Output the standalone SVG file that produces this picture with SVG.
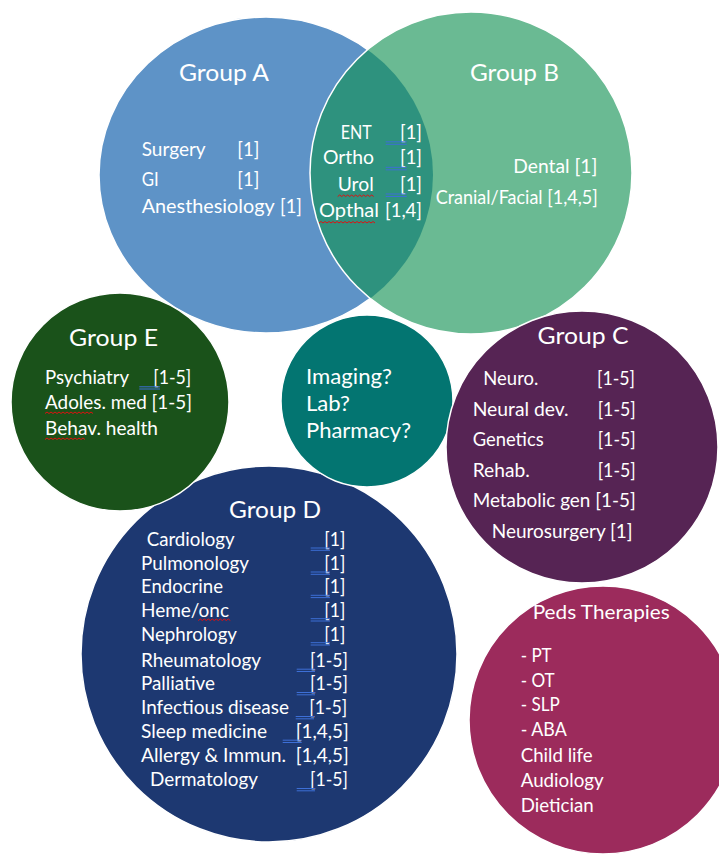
<svg xmlns="http://www.w3.org/2000/svg" width="719" height="856" viewBox="0 0 719 856">
  <defs>
    <clipPath id="clipA">
      <ellipse cx="266" cy="175" rx="167" ry="158"/>
    </clipPath>
    <style>
      .shape { stroke: #ffffff; stroke-width: 1.5; }
      .t { fill: #ffffff; font-family: Lato, "Open Sans", "Liberation Sans", sans-serif; font-size: 18.5px; }
      .title { font-size: 24px; }
      .mid { font-size: 21px; }
      .peds { font-size: 19.5px; }
      .gram { stroke: #3d6fd6; stroke-width: 1; fill: none; }
      .spell { stroke: #e01010; stroke-width: 1; fill: none; }
    </style>
  </defs>

  <rect width="719" height="856" fill="#ffffff"/>

  <!-- Group A / Group B overlap -->
  <g id="group-a">
    <ellipse class="shape" cx="266" cy="175" rx="167" ry="158" fill="#5e93c7"/>
    <text class="t title" x="179" y="81" textLength="90" lengthAdjust="spacingAndGlyphs">Group A</text>
    <text class="t" x="141.7" y="156" textLength="64" lengthAdjust="spacingAndGlyphs">Surgery</text>
    <text class="t" x="237.3" y="156" textLength="22" lengthAdjust="spacingAndGlyphs">[1]</text>
    <text class="t" x="141.7" y="186" textLength="17" lengthAdjust="spacingAndGlyphs">GI</text>
    <text class="t" x="237.3" y="186" textLength="22" lengthAdjust="spacingAndGlyphs">[1]</text>
    <text class="t" x="141.7" y="212.7" textLength="133" lengthAdjust="spacingAndGlyphs">Anesthesiology</text>
    <text class="t" x="280" y="212.7" textLength="22" lengthAdjust="spacingAndGlyphs">[1]</text>
  </g>

  <g id="group-b">
    <circle cx="471" cy="173" r="161" fill="#6aba93"/>
    <circle cx="471" cy="173" r="161" fill="#2e927e" clip-path="url(#clipA)"/>
    <circle cx="471" cy="173" r="161" fill="none" class="shape"/>
    <text class="t title" x="470" y="81" textLength="89" lengthAdjust="spacingAndGlyphs">Group B</text>
    <text class="t" x="513.3" y="173.3" textLength="84" lengthAdjust="spacingAndGlyphs">Dental [1]</text>
    <text class="t" x="435.7" y="204" textLength="162" lengthAdjust="spacingAndGlyphs">Cranial/Facial [1,4,5]</text>
  </g>

  <g id="group-ab-shared">
    <text class="t" x="340.7" y="139.3" textLength="31" lengthAdjust="spacingAndGlyphs">ENT</text>
    <text class="t" x="400" y="139.3" textLength="22" lengthAdjust="spacingAndGlyphs">[1]</text>
    <text class="t" x="323" y="164.3" textLength="51" lengthAdjust="spacingAndGlyphs">Ortho</text>
    <text class="t" x="400" y="164.3" textLength="22" lengthAdjust="spacingAndGlyphs">[1]</text>
    <text class="t" x="337.7" y="190.7" textLength="36" lengthAdjust="spacingAndGlyphs">Urol</text>
    <text class="t" x="400" y="190.7" textLength="22" lengthAdjust="spacingAndGlyphs">[1]</text>
    <text class="t" x="319" y="217.3" textLength="60" lengthAdjust="spacingAndGlyphs">Opthal</text>
    <text class="t" x="385" y="217.3" textLength="37" lengthAdjust="spacingAndGlyphs">[1,4]</text>
    <path class="gram" d="M385.7 141.8H406.7M385.7 144.3H406.7M385.7 167.3H406.7M385.7 169.8H406.7M385.7 194H406.7M385.7 196.5H406.7"/>
    <path class="spell" d="M337.7 196.5l2-1.5 2 1.5 2-1.5 2 1.5 2-1.5 2 1.5 2-1.5 2 1.5 2-1.5 2 1.5 2-1.5 2 1.5 2-1.5 2 1.5 2-1.5 2 1.5 2-1.5 2 1.5"/>
    <path class="spell" d="M319 223l2-1.5 2 1.5 2-1.5 2 1.5 2-1.5 2 1.5 2-1.5 2 1.5 2-1.5 2 1.5 2-1.5 2 1.5 2-1.5 2 1.5 2-1.5 2 1.5 2-1.5 2 1.5 2-1.5 2 1.5 2-1.5 2 1.5 2-1.5 2 1.5 2-1.5 2 1.5 2-1.5 2 1.5"/>
  </g>

  <!-- Group D -->
  <g id="group-d">
    <circle class="shape" cx="269" cy="654" r="188" fill="#1d3871"/>
    <text class="t title" x="229" y="518" textLength="92" lengthAdjust="spacingAndGlyphs">Group D</text>
    <text class="t" x="146.7" y="546" textLength="88" lengthAdjust="spacingAndGlyphs">Cardiology</text>
    <text class="t" x="324.3" y="546" textLength="21" lengthAdjust="spacingAndGlyphs">[1]</text>
    <text class="t" x="141" y="570" textLength="108" lengthAdjust="spacingAndGlyphs">Pulmonology</text>
    <text class="t" x="324.3" y="570" textLength="21" lengthAdjust="spacingAndGlyphs">[1]</text>
    <text class="t" x="141" y="593.3" textLength="82" lengthAdjust="spacingAndGlyphs">Endocrine</text>
    <text class="t" x="324.3" y="593.3" textLength="21" lengthAdjust="spacingAndGlyphs">[1]</text>
    <text class="t" x="141" y="616.7" textLength="88" lengthAdjust="spacingAndGlyphs">Heme/onc</text>
    <text class="t" x="324.3" y="616.7" textLength="21" lengthAdjust="spacingAndGlyphs">[1]</text>
    <text class="t" x="141" y="640.7" textLength="96" lengthAdjust="spacingAndGlyphs">Nephrology</text>
    <text class="t" x="324.3" y="640.7" textLength="21" lengthAdjust="spacingAndGlyphs">[1]</text>
    <text class="t" x="141" y="666.7" textLength="120" lengthAdjust="spacingAndGlyphs">Rheumatology</text>
    <text class="t" x="310" y="666.7" textLength="38" lengthAdjust="spacingAndGlyphs">[1-5]</text>
    <text class="t" x="141" y="690" textLength="74" lengthAdjust="spacingAndGlyphs">Palliative</text>
    <text class="t" x="310" y="690" textLength="38" lengthAdjust="spacingAndGlyphs">[1-5]</text>
    <text class="t" x="141" y="714" textLength="148" lengthAdjust="spacingAndGlyphs">Infectious disease</text>
    <text class="t" x="309.3" y="714" textLength="38" lengthAdjust="spacingAndGlyphs">[1-5]</text>
    <text class="t" x="141" y="737.7" textLength="126" lengthAdjust="spacingAndGlyphs">Sleep medicine</text>
    <text class="t" x="295.7" y="737.7" textLength="53" lengthAdjust="spacingAndGlyphs">[1,4,5]</text>
    <text class="t" x="141" y="761.7" textLength="145" lengthAdjust="spacingAndGlyphs">Allergy &amp; Immun.</text>
    <text class="t" x="295.7" y="761.7" textLength="53" lengthAdjust="spacingAndGlyphs">[1,4,5]</text>
    <text class="t" x="150" y="786" textLength="108" lengthAdjust="spacingAndGlyphs">Dermatology</text>
    <text class="t" x="310" y="786" textLength="38" lengthAdjust="spacingAndGlyphs">[1-5]</text>
    <path class="gram" d="M310.7 548H330M310.7 550.3H330M310.7 572H330M310.7 574.3H330M310.7 595.3H330M310.7 597.6H330M310.7 618.7H330M310.7 621H330M310.7 642.7H330M310.7 645H330"/>
    <path class="gram" d="M296.7 669.2H315M296.7 671.5H315M296.7 692.5H315M296.7 694.8H315M295.7 716.5H314M295.7 718.8H314M282.7 740.2H301.7M282.7 742.5H301.7M296.7 788.5H315M296.7 790.8H315"/>
    <path class="spell" d="M198.3 620.5l2-1.5 2 1.5 2-1.5 2 1.5 2-1.5 2 1.5 2-1.5 2 1.5 2-1.5 2 1.5 2-1.5 2 1.5 2-1.5 2 1.5 2-1.5 2 1.5"/>
  </g>

  <!-- Group E -->
  <g id="group-e">
    <circle class="shape" cx="120" cy="402" r="109" fill="#1a521a"/>
    <text class="t title" x="69" y="346" textLength="89" lengthAdjust="spacingAndGlyphs">Group E</text>
    <text class="t" x="45" y="384.3" textLength="84" lengthAdjust="spacingAndGlyphs">Psychiatry</text>
    <text class="t" x="153.3" y="384.3" textLength="38" lengthAdjust="spacingAndGlyphs">[1-5]</text>
    <text class="t" x="45" y="409" textLength="147" lengthAdjust="spacingAndGlyphs">Adoles. med [1-5]</text>
    <text class="t" x="45" y="435" textLength="113" lengthAdjust="spacingAndGlyphs">Behav. health</text>
    <path class="gram" d="M139.3 386.8H160M139.3 389H160"/>
    <path class="spell" d="M45 413.5l2-1.5 2 1.5 2-1.5 2 1.5 2-1.5 2 1.5 2-1.5 2 1.5 2-1.5 2 1.5 2-1.5 2 1.5 2-1.5 2 1.5 2-1.5 2 1.5 2-1.5 2 1.5 2-1.5 2 1.5 2-1.5 2 1.5 2-1.5 2 1.5"/>
    <path class="spell" d="M45 439.5l2-1.5 2 1.5 2-1.5 2 1.5 2-1.5 2 1.5 2-1.5 2 1.5 2-1.5 2 1.5 2-1.5 2 1.5 2-1.5 2 1.5 2-1.5 2 1.5 2-1.5 2 1.5 2-1.5 2 1.5"/>
  </g>

  <!-- Shared services -->
  <g id="shared-services">
    <circle class="shape" cx="367" cy="401" r="86" fill="#037571"/>
    <text class="t mid" x="306" y="384" textLength="86" lengthAdjust="spacingAndGlyphs">Imaging?</text>
    <text class="t mid" x="306" y="411" textLength="44" lengthAdjust="spacingAndGlyphs">Lab?</text>
    <text class="t mid" x="306" y="438" textLength="105" lengthAdjust="spacingAndGlyphs">Pharmacy?</text>
  </g>

  <!-- Group C -->
  <g id="group-c">
    <circle class="shape" cx="582" cy="447" r="136" fill="#562454"/>
    <text class="t title" x="537.6" y="344" textLength="91" lengthAdjust="spacingAndGlyphs">Group C</text>
    <text class="t" x="483.3" y="385" textLength="55" lengthAdjust="spacingAndGlyphs">Neuro.</text>
    <text class="t" x="597" y="385" textLength="38" lengthAdjust="spacingAndGlyphs">[1-5]</text>
    <text class="t" x="472.7" y="416" textLength="96" lengthAdjust="spacingAndGlyphs">Neural dev.</text>
    <text class="t" x="597.7" y="416" textLength="38" lengthAdjust="spacingAndGlyphs">[1-5]</text>
    <text class="t" x="472.7" y="446" textLength="71" lengthAdjust="spacingAndGlyphs">Genetics</text>
    <text class="t" x="597.7" y="446" textLength="38" lengthAdjust="spacingAndGlyphs">[1-5]</text>
    <text class="t" x="472.7" y="476.7" textLength="57" lengthAdjust="spacingAndGlyphs">Rehab.</text>
    <text class="t" x="597.7" y="476.7" textLength="38" lengthAdjust="spacingAndGlyphs">[1-5]</text>
    <text class="t" x="472.7" y="506.7" textLength="163" lengthAdjust="spacingAndGlyphs">Metabolic gen [1-5]</text>
    <text class="t" x="491.7" y="538.3" textLength="141" lengthAdjust="spacingAndGlyphs">Neurosurgery [1]</text>
  </g>

  <!-- Peds Therapies -->
  <g id="peds-therapies">
    <circle class="shape" cx="603" cy="720" r="134" fill="#9c2b5c"/>
    <text class="t peds" x="532.7" y="619.3" textLength="137" lengthAdjust="spacingAndGlyphs">Peds Therapies</text>
    <text class="t" x="520.7" y="661.7" textLength="31" lengthAdjust="spacingAndGlyphs">- PT</text>
    <text class="t" x="520.7" y="686.7" textLength="34" lengthAdjust="spacingAndGlyphs">- OT</text>
    <text class="t" x="520.7" y="710.7" textLength="39" lengthAdjust="spacingAndGlyphs">- SLP</text>
    <text class="t" x="520.7" y="736" textLength="46" lengthAdjust="spacingAndGlyphs">- ABA</text>
    <text class="t" x="520.7" y="761.7" textLength="72" lengthAdjust="spacingAndGlyphs">Child life</text>
    <text class="t" x="520.7" y="786.7" textLength="83" lengthAdjust="spacingAndGlyphs">Audiology</text>
    <text class="t" x="520.7" y="811.7" textLength="73" lengthAdjust="spacingAndGlyphs">Dietician</text>
  </g>

  <g id="connectors"/>
</svg>
